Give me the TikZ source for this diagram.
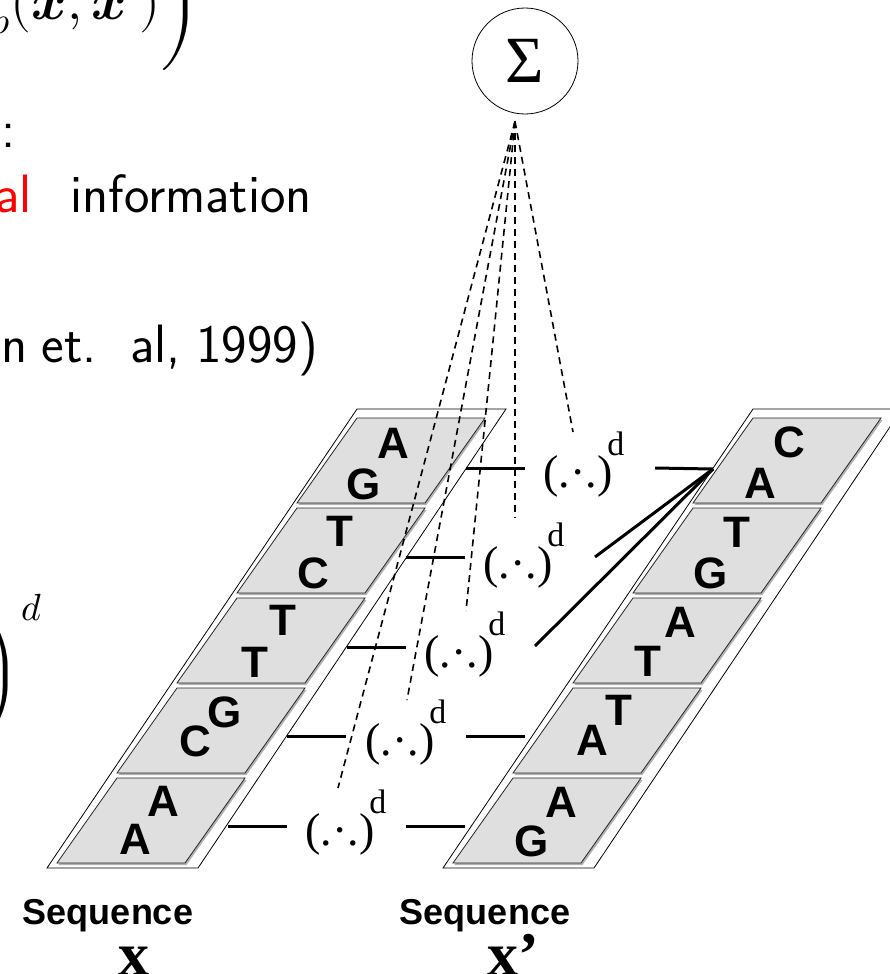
\documentclass[tikz,border=0pt]{standalone}
\usepackage{amsmath}
\usepackage{fontspec}
\usepackage{unicode-math}
\setmathfont{Latin Modern Math}
\newfontfamily\seqfont{Liberation Sans}
\newfontfamily\romfont{Liberation Serif}
\begin{document}
\begin{tikzpicture}[x=1pt,y={(0pt,-1pt)},
  strip/.style={draw=black, line width=0.8pt, fill=white},
  cellbox/.style={draw=black!85, line width=0.8pt, fill=gray!25},
  cellshade/.style={fill=gray!60},
  base/.style={font=\seqfont\bfseries\fontsize{44}{44}\selectfont, inner sep=0pt},
  term/.style={font=\romfont\fontsize{46}{46}\selectfont, inner sep=0pt},
  bond/.style={line width=3pt},
  dashline/.style={line width=1.6pt, dash pattern=on 7pt off 5pt},
  seqlabel/.style={font=\seqfont\bfseries\fontsize{36}{36}\selectfont, inner sep=0pt, anchor=base},
  seqvar/.style={font=\romfont\bfseries\fontsize{62}{62}\selectfont, inner sep=0pt, anchor=base west},
  slide/.style={font=\sffamily\fontsize{54}{60}\selectfont, inner sep=0pt}]
\useasboundingbox (0,0) rectangle (889,974);

% --- text of the slide on the left (cut by the frame) ---
\node[slide, anchor=base east] (formA) at (200,20) {${}_{p}(\symbfit{x},\symbfit{x}')\biggr)$};
\node[slide, anchor=base west] (colon) at (1,147) {:};
\node[slide, anchor=base east] (info) at (312,212) {\textcolor{red}{al}\kern22pt\ information};
\node[slide, anchor=base east] (cite) at (318,362) {n\hspace{14pt}et.\hspace{33pt}al,\hspace{16pt}1999)};
\node[slide, anchor=base west] (formB) at (-20,689) {$\biggr)^{\kern2pt d}$};

% --- the two sequence strips ---
\foreach \dx in {0,396} {
  \draw[strip] (47+\dx,868) -- (198+\dx,868) -- (506+\dx,409) -- (357+\dx,409) -- cycle;
  \foreach \k in {0,...,4} {
    \fill[cellshade] ({357-60*\k+\dx+1.5},{418+90*\k+2}) -- ++(128,0) -- ++(-60,85) -- ++(-128,0) -- cycle;
    \draw[cellbox] ({357-60*\k+\dx},{418+90*\k}) -- ++(128,0) -- ++(-60,85) -- ++(-128,0) -- cycle;
  }
}

% bases of sequence x
\node[base] (x1a) at (364,484) {G}; \node[base] (x1b) at (393,443) {A};
\node[base] (x2a) at (313,573) {C}; \node[base] (x2b) at (340,531) {T};
\node[base] (x3a) at (255,662) {T}; \node[base] (x3b) at (283,620) {T};
\node[base] (x4a) at (195,741) {C}; \node[base] (x4b) at (225,712) {G};
\node[base] (x5a) at (135,839) {A}; \node[base] (x5b) at (163,801) {A};
% bases of sequence x'
\node[base] (y1a) at (760,483) {A}; \node[base] (y1b) at (789,442) {C};
\node[base] (y2a) at (711,573) {G}; \node[base] (y2b) at (737,532) {T};
\node[base] (y3a) at (648,661) {T}; \node[base] (y3b) at (680,622) {A};
\node[base] (y4a) at (592,740) {A}; \node[base] (y4b) at (619,710) {T};
\node[base] (y5a) at (532,841) {G}; \node[base] (y5b) at (561,802) {A};

% --- polynomial terms ---
\newcommand{\polyterm}{(.·.)\rlap{\kern-5pt\raisebox{32pt}[0pt][0pt]{\fontsize{34}{34}\selectfont d}}}
\node[term] (r1) at (578,476) {\polyterm};
\node[term] (r2) at (518,567) {\polyterm};
\node[term] (r3) at (459,656) {\polyterm};
\node[term] (r4) at (400,744) {\polyterm};
\node[term] (r5) at (340,834) {\polyterm};

% --- solid links from the strips to the terms ---
\foreach \i/\xa/\xb/\y in {1/466/525/468, 2/406/465/557, 3/347/406/647, 4/287/346/736, 5/228/287/826} {
  \coordinate (la\i) at (\xa,\y);
  \coordinate (lb\i) at (\xb,\y);
  \draw[bond] (la\i) -- (lb\i);
}
\coordinate (joint) at (713,469);
\coordinate (ra1) at (655,468);
\coordinate (ra2) at (595,557);
\coordinate (ra3) at (535,646);
\draw[bond] (ra1) -- (joint);
\draw[bond] (ra2) -- (joint);
\draw[bond] (ra3) -- (joint);
\coordinate (ra4) at (466,736); \coordinate (rb4) at (525,736);
\coordinate (ra5) at (406,826); \coordinate (rb5) at (465,826);
\draw[bond] (ra4) -- (rb4);
\draw[bond] (ra5) -- (rb5);

% --- summation node and its dashed fan ---
\node[circle, draw, line width=0.8pt, minimum size=106pt, inner sep=0pt,
      font=\romfont\fontsize{66}{66}\selectfont] (sum) at (525,61) {Σ};
\coordinate (hub) at ([xshift=-10pt,yshift=-7pt]sum.south);
\coordinate (e1) at (573,432);
\coordinate (e2) at (515,518);
\coordinate (e3) at (466,611);
\coordinate (e4) at (407,700);
\coordinate (e5) at (338,788);
\foreach \i in {1,...,5} { \draw[dashline] (hub) -- (e\i); }

% --- sequence labels ---
\node[seqlabel] (lx) at (108,924) {Sequence};
\node[seqlabel] (ly) at (485,924) {Sequence};
\node[seqvar] (vx) at (118,975) {x};
\node[seqvar] (vy) at (487,975) {x’};
\end{tikzpicture}
\end{document}
